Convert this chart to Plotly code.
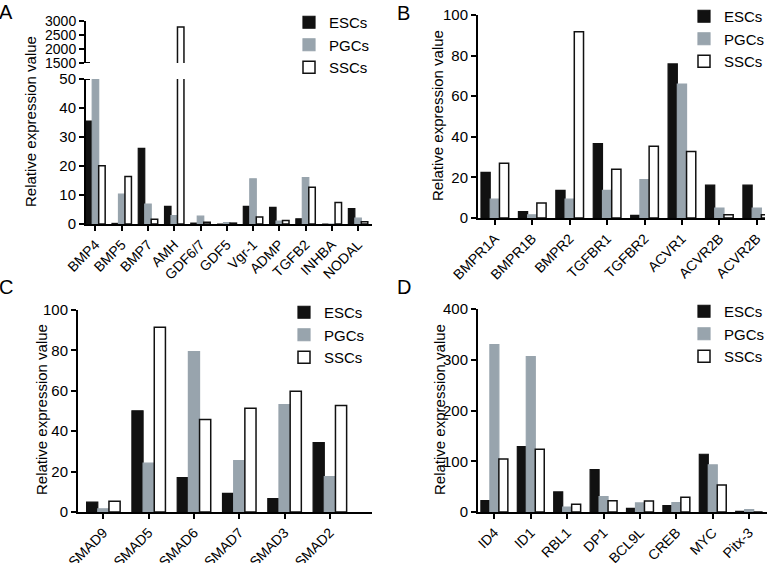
import plotly.graph_objects as go

# ---------------- data ----------------
series_names = ["ESCs", "PGCs", "SSCs"]

a_cats = ["BMP4", "BMP5", "BMP7", "AMH", "GDF6/7", "GDF5", "Vgr-1", "ADMP", "TGFB2", "INHBA", "NODAL"]
a_esc = [35.5, 0.2, 26.1, 6.1, 0.3, 0.0, 6.1, 5.7, 1.8, 0.0, 5.3]
a_pgc = [50.0, 10.3, 6.9, 2.9, 2.7, 0.5, 15.6, 1.0, 16.0, 0.0, 2.0]
a_ssc = [20.1, 16.4, 1.6, 2790, 0.6, 0.3, 2.4, 1.2, 12.7, 7.4, 0.8]

b_cats = ["BMPR1A", "BMPR1B", "BMPR2", "TGFBR1", "TGFBR2", "ACVR1", "ACVR2B", "ACVR2B"]
b_esc = [22.5, 3.1, 13.6, 36.7, 1.3, 75.9, 16.2, 16.2]
b_pgc = [9.3, 1.6, 9.3, 13.6, 18.9, 66.0, 4.9, 4.9]
b_ssc = [27.0, 7.4, 91.8, 24.0, 35.4, 32.8, 1.6, 1.6]

c_cats = ["SMAD9", "SMAD5", "SMAD6", "SMAD7", "SMAD3", "SMAD2"]
c_esc = [4.9, 50.1, 17.0, 9.2, 6.6, 34.3]
c_pgc = [1.6, 24.2, 79.4, 25.5, 53.2, 17.5]
c_ssc = [5.3, 91.4, 45.8, 51.4, 59.8, 52.7]

d_cats = ["ID4", "ID1", "RBL1", "DP1", "BCL9L", "CREB", "MYC", "Pitx-3"]
d_esc = [22.4, 129, 39.5, 83.6, 7.2, 12.5, 113.8, 1.3]
d_pgc = [330, 306, 9.9, 30.3, 17.8, 18.4, 92.8, 4.6]
d_ssc = [104.6, 123.7, 15.1, 22.4, 21.7, 28.9, 53.3, 0.0]

a_ticks_low = [0, 10, 20, 30, 40, 50]
a_ticks_high = [1500, 2000, 2500, 3000]
b_ticks = [0, 20, 40, 60, 80, 100]
c_ticks = [0, 20, 40, 60, 80, 100]
d_ticks = [0, 100, 200, 300, 400]

# ---------------- styling ----------------
W, H = 767, 563
FONT = "Liberation Sans, Arial, Helvetica, sans-serif"
styles = {
    "ESCs": dict(color="#111111", line=dict(color="#111111", width=1.2)),
    "PGCs": dict(color="#98a4ad", line=dict(color="#98a4ad", width=1.2)),
    "SSCs": dict(color="#ffffff", line=dict(color="#111111", width=1.5)),
}


def fx(p):
    return p / W


def fy(p):
    return 1 - p / H


fig = go.Figure()


def add_panel(cats, vals, xa, ya, legend, showlegend=True):
    idx = list(range(len(cats)))
    for name, v in zip(series_names, vals):
        fig.add_trace(go.Bar(
            x=idx, y=v, name=name, marker=styles[name],
            xaxis=xa, yaxis=ya, legend=legend, showlegend=showlegend,
        ))


add_panel(a_cats, [a_esc, a_pgc, a_ssc], "x", "y", "legend")
add_panel(a_cats, [a_esc, a_pgc, a_ssc], "x5", "y5", "legend", showlegend=False)
add_panel(b_cats, [b_esc, b_pgc, b_ssc], "x2", "y2", "legend2")
add_panel(c_cats, [c_esc, c_pgc, c_ssc], "x3", "y3", "legend3")
add_panel(d_cats, [d_esc, d_pgc, d_ssc], "x4", "y4", "legend4")

axis_common = dict(
    showline=True, linecolor="black", linewidth=2, ticks="outside", ticklen=5,
    tickwidth=2, tickcolor="black", showgrid=False, zeroline=False,
    tickfont=dict(size=15, color="black", family=FONT), automargin=False,
)
xcommon = dict(axis_common, tickangle=-45, tickfont=dict(size=14, color="black", family=FONT))


def xaxis(cats, dom, rng):
    return dict(xcommon, domain=dom, range=rng, tickmode="array",
                tickvals=list(range(len(cats))), ticktext=cats)


def yaxis(dom, rng, ticks, anchor, size=15):
    return dict(axis_common, domain=dom, range=rng, tickmode="array", tickvals=ticks,
                anchor=anchor, tickfont=dict(size=size, color="black", family=FONT))


legend_common = dict(xanchor="left", yanchor="top", bgcolor="rgba(0,0,0,0)",
                     font=dict(size=15, color="black", family=FONT), tracegroupgap=0)

fig.update_layout(
    width=W, height=H, margin=dict(l=0, r=0, t=0, b=0, autoexpand=False),
    paper_bgcolor="white", plot_bgcolor="white",
    font=dict(family=FONT, color="black"),
    barmode="group", bargap=0.26, bargroupgap=0,
    # Panel A (broken axis)
    xaxis=xaxis(a_cats, [fx(86), fx(372)], [-0.36, 10.53]) | dict(anchor="y"),
    yaxis=yaxis([fy(224), fy(79)], [0, 50], a_ticks_low, "x"),
    xaxis5=dict(domain=[fx(86), fx(372)], range=[-0.36, 10.53], visible=False, anchor="y5"),
    yaxis5=yaxis([fy(63), fy(21)], [1500, 3000], a_ticks_high, "x5", size=14),
    # Panel B
    xaxis2=xaxis(b_cats, [fx(478), fx(765)], [-0.45, 7.22]) | dict(anchor="y2"),
    yaxis2=yaxis([fy(218), fy(15)], [0, 100], b_ticks, "x2"),
    # Panel C
    xaxis3=xaxis(c_cats, [fx(78), fx(372)], [-0.56, 5.93]) | dict(anchor="y3"),
    yaxis3=yaxis([fy(512), fy(310)], [0, 100], c_ticks, "x3"),
    # Panel D
    xaxis4=xaxis(d_cats, [fx(478), fx(767)], [-0.45, 7.49]) | dict(anchor="y4"),
    yaxis4=yaxis([fy(512), fy(309)], [0, 400], d_ticks, "x4"),
    legend=dict(legend_common, x=fx(289), y=fy(6)),
    legend2=dict(legend_common, x=fx(684), y=fy(0)),
    legend3=dict(legend_common, x=fx(284), y=fy(296)),
    legend4=dict(legend_common, x=fx(684), y=fy(295)),
)

# break marks on panel A's y axis
fig.add_shape(type="line", xref="x domain", yref="y", x0=0, x1=0.014, y0=50, y1=50,
              line=dict(color="black", width=2))
fig.add_shape(type="line", xref="x5 domain", yref="y5", x0=0, x1=0.014, y0=1500, y1=1500,
              line=dict(color="black", width=2))

ytitle = "Relative expression value"
for letter, x, y in [("A", 6, 12), ("B", 403, 13), ("C", 6, 287), ("D", 404, 287)]:
    fig.add_annotation(text=letter, x=fx(x), y=fy(y), xref="paper", yref="paper",
                       showarrow=False, xanchor="center", yanchor="middle",
                       font=dict(size=20, color="black", family=FONT))
for x, y in [(30, 122), (437, 116), (41, 410), (439, 410)]:
    fig.add_annotation(text=ytitle, x=fx(x), y=fy(y), xref="paper", yref="paper",
                       showarrow=False, textangle=-90, xanchor="center", yanchor="middle",
                       font=dict(size=15, color="black", family=FONT))

fig.write_html(
    "out.html",
    config={"displayModeBar": False},
    post_script="document.body.style.margin='0';document.body.style.overflow='hidden';",
)
